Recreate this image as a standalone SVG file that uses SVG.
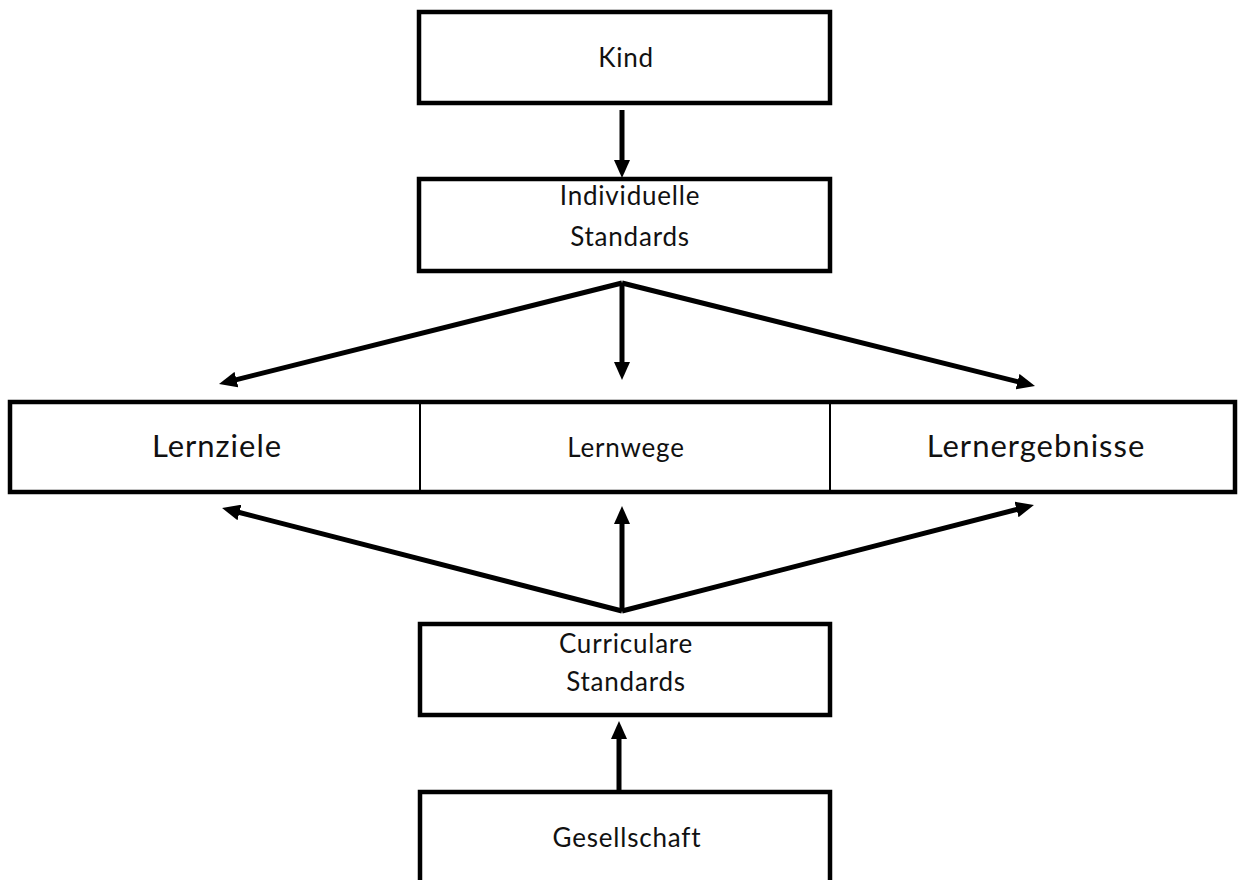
<svg xmlns="http://www.w3.org/2000/svg" width="1239" height="880" viewBox="0 0 1239 880">
<style>
.box{fill:#fff;stroke:#000;stroke-width:4.5}
.div{stroke:#000;stroke-width:2}
.t{font-family:Lato,"Open Sans",sans-serif;fill:#111;text-anchor:middle;font-size:26px;letter-spacing:0.8px}
.big{font-size:31px;letter-spacing:1px}
.c{fill:none;stroke:#000;stroke-width:5;marker-end:url(#ah)}
</style>
<defs>
<marker id="ah" viewBox="0 0 18 16" refX="4" refY="8" markerWidth="18" markerHeight="16" markerUnits="userSpaceOnUse" orient="auto">
<path d="M0,0 L18,8 L0,16 z" fill="#000"/>
</marker>
</defs>
<rect width="1239" height="880" fill="#fff"/>
<g id="kind"><rect class="box" x="419" y="12" width="411" height="91"/><text class="t" x="626" y="67">Kind</text></g>
<g id="individuelle"><rect class="box" x="419" y="179" width="411" height="92"/><text class="t" x="630" y="205">Individuelle</text><text class="t" x="630" y="246">Standards</text></g>
<g id="row">
<rect class="box" x="10" y="402" width="1225" height="90"/>
<line class="div" x1="420" y1="402" x2="420" y2="492"/>
<line class="div" x1="830" y1="402" x2="830" y2="492"/>
</g>
<g id="lernziele"><text class="t big" x="217" y="457">Lernziele</text></g>
<g id="lernwege"><text class="t" x="626" y="457">Lernwege</text></g>
<g id="lernergebnisse"><text class="t big" x="1036" y="457">Lernergebnisse</text></g>
<g id="curriculare"><rect class="box" x="420" y="624" width="410" height="91"/><text class="t" x="626" y="653">Curriculare</text><text class="t" x="626" y="691">Standards</text></g>
<g id="gesellschaft"><rect class="box" x="420" y="792" width="410" height="100"/><text class="t" x="627" y="847">Gesellschaft</text></g>
<g id="connectors">
<path class="c" d="M622,110 L622,164"/>
<path class="c" d="M622,283 L232.6,380.6"/>
<path class="c" d="M622,283 L622,366"/>
<path class="c" d="M622,283 L1021.4,382.6"/>
<path class="c" d="M622,611 L235.6,511.5"/>
<path class="c" d="M622,611 L622,520"/>
<path class="c" d="M622,611 L1020.4,508.5"/>
<path class="c" d="M619,793 L619,735"/>
</g>
</svg>
